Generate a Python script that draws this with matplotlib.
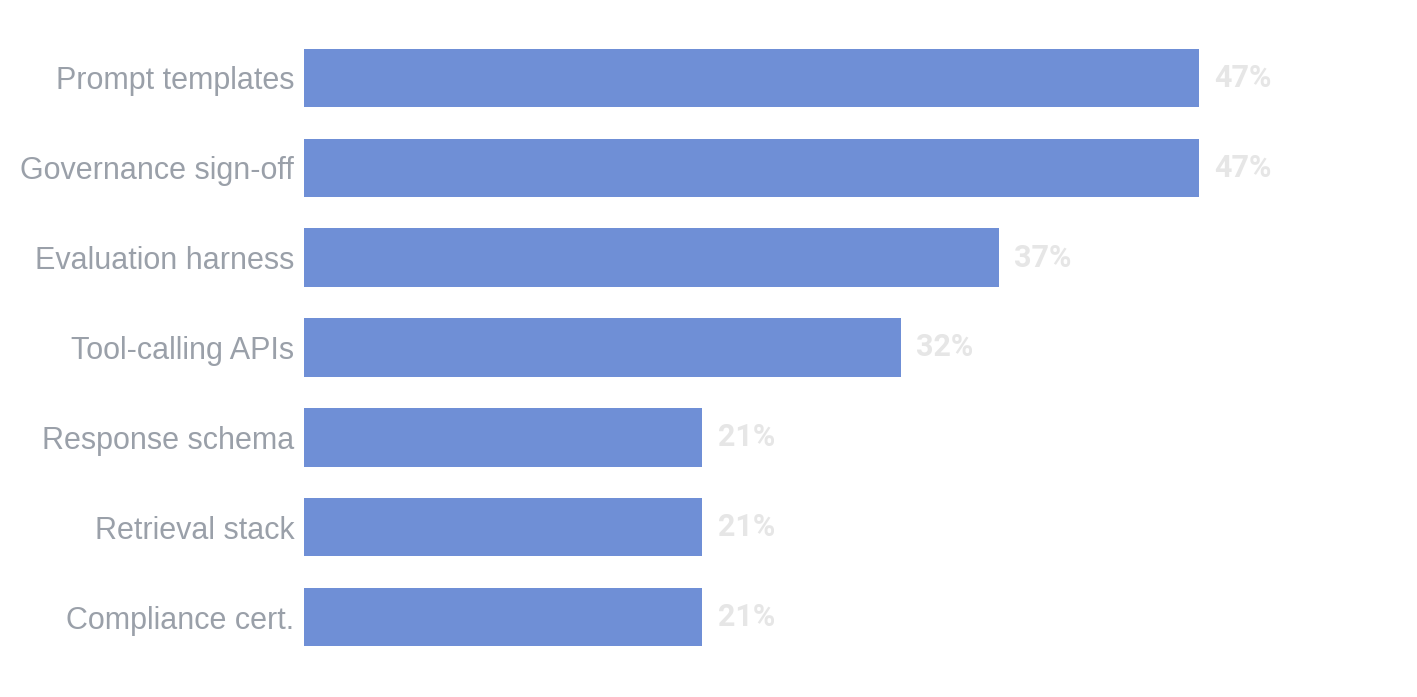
import matplotlib
matplotlib.use("Agg")
import matplotlib.pyplot as plt

categories = ["Prompt templates", "Governance sign-off", "Evaluation harness",
              "Tool-calling APIs", "Response schema", "Retrieval stack",
              "Compliance cert."]
shares = [47.4, 47.4, 36.8, 31.6, 21.1, 21.1, 21.1]

bar_color = "#6f8fd6"
label_color = "#9aa0a9"
value_color = "#e6e6e6"

fig = plt.figure(figsize=(14.17, 6.97), dpi=100)
ax = fig.add_axes([304 / 1417, 1 - 662 / 697, (1199 - 304) / 1417, (662 - 33) / 697])

y = list(range(len(categories)))
ax.barh(y, shares, height=0.65, color=bar_color)
ax.set_xlim(0, max(shares))
ax.set_ylim(len(categories) - 0.5, -0.5)

ax.set_yticks(y)
ax.set_yticklabels(categories, fontsize=22, color=label_color, family="Liberation Sans")
ax.tick_params(axis="y", length=0, pad=7)
ax.set_xticks([])
for s in ax.spines.values():
    s.set_visible(False)

for yi, v in zip(y, shares):
    ax.text(v + 0.8, yi, f"{round(v)}%", va="center", ha="left", fontsize=22,
            fontweight="bold", color=value_color, family="Roboto", clip_on=False)

fig.savefig("out.png", dpi=100)
